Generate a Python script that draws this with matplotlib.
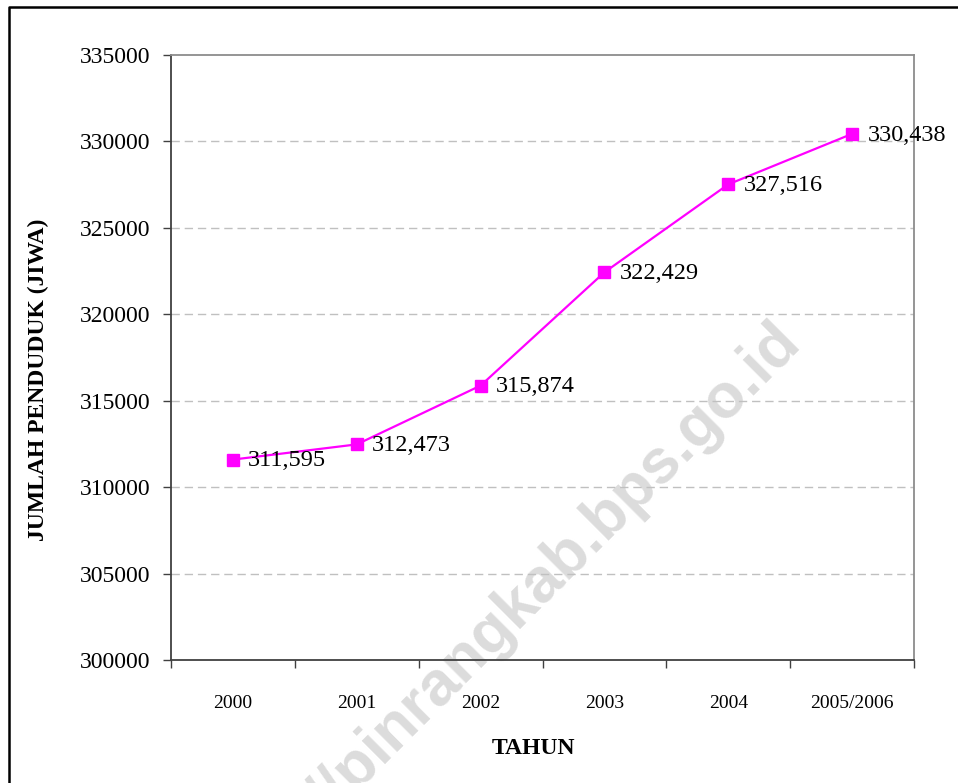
import numpy as np
import matplotlib.pyplot as plt
from matplotlib.lines import Line2D
from matplotlib.ticker import FixedLocator, NullFormatter

# Data
years = ['2000', '2001', '2002', '2003', '2004', '2005/2006']
population = [311595, 312473, 315874, 322429, 327516, 330438]
y_ticks = [300000, 305000, 310000, 315000, 320000, 325000, 330000, 335000]

W, H = 958, 783
fig = plt.figure(figsize=(W / 100, H / 100), dpi=100)
fig.patch.set_facecolor('white')

# page frame (left and top edges)
fig.add_artist(Line2D([9 / W, 9 / W, 1.0], [0.0, 1 - 7 / H, 1 - 7 / H],
                      transform=fig.transFigure, color='black', lw=1.8))

# watermark behind the chart
fig.text(802 / W, 1 - 343 / H, 'https://pinrangkab.bps.go.id',
         fontsize=45, fontweight='bold', family='Liberation Sans',
         color='#dcdcdc', rotation=45, rotation_mode='anchor',
         ha='right', va='baseline', zorder=-1)

ax = fig.add_axes([171 / W, 1 - 660 / H, (914 - 171) / W, (660 - 55) / H])
ax.set_facecolor('none')

x = np.arange(len(years))
ax.plot(x, population, color='#ff00ff', lw=1.6, marker='s', markersize=8,
        markerfacecolor='#ff00ff', markeredgecolor='#ff00ff', zorder=3)
for xi, v in zip(x, population):
    ax.annotate(f'{v:,}', (xi, v), xytext=(11, -1), textcoords='offset points',
                ha='left', va='center', fontsize=17.5, family='Liberation Serif',
                zorder=4)

ax.set_xlim(-0.5, len(years) - 0.5)
ax.set_ylim(300000, 335000)

# y axis
ax.set_yticks(y_ticks)
ax.set_yticklabels([str(t) for t in y_ticks], fontsize=17, family='Liberation Serif')
ax.tick_params(axis='y', direction='out', length=6, width=1, color='#404040', pad=9)
for t in y_ticks[1:-1]:
    ax.axhline(t, color='#c0c0c0', lw=1, ls=(0, (6, 3.5)), zorder=1)

# x axis: ticks on category boundaries, labels in the middle
ax.xaxis.set_major_locator(FixedLocator(np.arange(-0.5, len(years), 1.0)))
ax.xaxis.set_major_formatter(NullFormatter())
ax.xaxis.set_minor_locator(FixedLocator(x))
ax.set_xticklabels(years, minor=True, fontsize=14, family='Liberation Serif')
ax.tick_params(axis='x', which='major', direction='out', length=6, width=1, color='#404040')
ax.tick_params(axis='x', which='minor', length=0, pad=25)

for side in ['left', 'bottom']:
    ax.spines[side].set_color('#404040')
    ax.spines[side].set_linewidth(1.3)
for side in ['top', 'right']:
    ax.spines[side].set_color('#8c8c8c')
    ax.spines[side].set_linewidth(1.3)

fig.text(533 / W, 1 - 748 / H, 'TAHUN', fontsize=17, fontweight='bold',
         family='Liberation Serif', ha='center', va='center')
fig.text(38 / W, 1 - 380 / H, 'JUMLAH PENDUDUK (JIWA)', fontsize=17,
         fontweight='bold', family='Liberation Serif', rotation=90,
         ha='center', va='center')

fig.savefig('out.png', dpi=100)
